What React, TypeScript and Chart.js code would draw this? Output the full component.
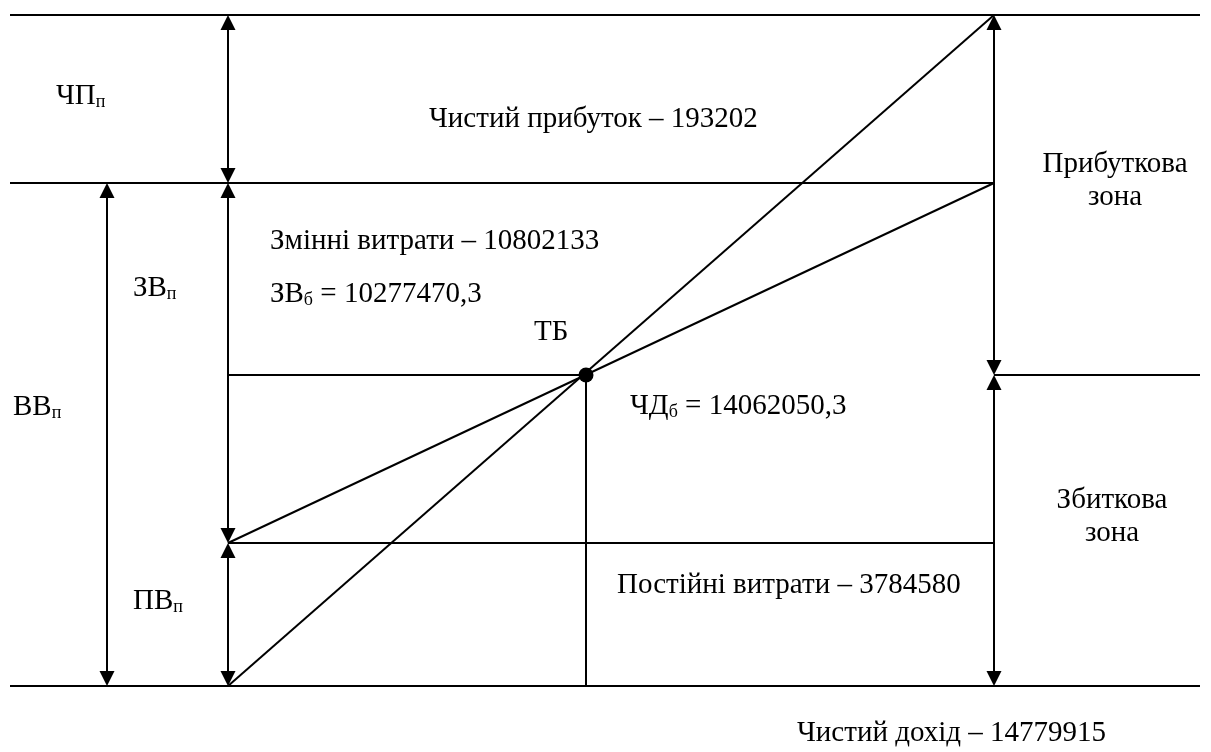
import { useEffect, useRef } from "react";
import { Chart, registerables } from "chart.js";

Chart.register(...registerables);

// Schematic break-even diagram. Values are in diagram units:
// volume along x (0 = start of the revenue line), amount along y (0 = base line).
const volumeNames = ["left edge", "ВВ arrow", "origin", "break-even", "end", "right edge"];
const volumeValues = [-218, -121, 0, 358, 766, 972];
const levelNames = ["base", "fixed costs", "break-even", "total costs", "revenue"];
const levelValues = [0, 143, 311, 503, 671];

const [X_LEFT, X_VV, X_0, X_BE, X_END, X_RIGHT] = volumeValues;
const [Y_BASE, Y_FIXED, Y_BE, Y_COST, Y_REV] = levelValues;

// Label texts: main text, subscript, rest
const labelTexts = [
  ["ЧП", "п", ""],
  ["Чистий прибуток – 193202", "", ""],
  ["Прибуткова", "", ""],
  ["зона", "", ""],
  ["Змінні витрати – 10802133", "", ""],
  ["ЗВ", "п", ""],
  ["ЗВ", "б", " = 10277470,3"],
  ["ТБ", "", ""],
  ["ВВ", "п", ""],
  ["ЧД", "б", " = 14062050,3"],
  ["Збиткова", "", ""],
  ["зона", "", ""],
  ["ПВ", "п", ""],
  ["Постійні витрати – 3784580", "", ""],
  ["Чистий дохід – 14779915", "", ""],
];
const labelX = [-172, 201, 887, 887, 42, -95, 42, 306, -215, 402, 884, 884, -95, 389, 569];
const labelY = [582, 559, 514, 481, 437, 390, 384, 346, 271, 272, 178, 145, 77, 93, -55];
const labelAlign = ["left", "left", "center", "center", "left", "left", "left", "left", "left", "left", "center", "center", "left", "left", "left"];

const segments: [number, number, number, number][] = [
  [X_LEFT, Y_REV, X_RIGHT, Y_REV],
  [X_LEFT, Y_COST, X_END, Y_COST],
  [X_0, Y_BE, X_BE, Y_BE],
  [X_END, Y_BE, X_RIGHT, Y_BE],
  [X_0, Y_FIXED, X_END, Y_FIXED],
  [X_LEFT, Y_BASE, X_RIGHT, Y_BASE],
  [X_BE, Y_BE, X_BE, Y_BASE],
  [X_0, Y_BASE, X_END, Y_REV],
  [X_0, Y_FIXED, X_END, Y_COST],
];

const arrows: [number, number, number][] = [
  [X_VV, Y_BASE, Y_COST],
  [X_0, Y_COST, Y_REV],
  [X_0, Y_FIXED, Y_COST],
  [X_0, Y_BASE, Y_FIXED],
  [X_END, Y_BE, Y_REV],
  [X_END, Y_BASE, Y_BE],
];

const FONT = "'Liberation Serif', 'Times New Roman', serif";
const MAIN_SIZE = 29;
const SUB_SIZE = 18;

const annotationPlugin = {
  id: "annotations",
  afterDatasetsDraw(chart: any) {
    const ctx = chart.ctx as CanvasRenderingContext2D;
    const xs = chart.scales.x;
    const ys = chart.scales.y;
    ctx.save();
    ctx.fillStyle = "#000";
    ctx.strokeStyle = "#000";
    ctx.lineWidth = 2;
    // arrows
    const head = (px: number, py: number, dir: number) => {
      ctx.beginPath();
      ctx.moveTo(px, py);
      ctx.lineTo(px - 7.5, py + dir * 15);
      ctx.lineTo(px + 7.5, py + dir * 15);
      ctx.closePath();
      ctx.fill();
    };
    arrows.forEach(([x, y1, y2]) => {
      const px = xs.getPixelForValue(x);
      const pLow = ys.getPixelForValue(y1);
      const pHigh = ys.getPixelForValue(y2);
      ctx.beginPath();
      ctx.moveTo(px, pLow - 10);
      ctx.lineTo(px, pHigh + 10);
      ctx.stroke();
      head(px, pHigh, 1);
      head(px, pLow, -1);
    });
    // labels
    ctx.textBaseline = "alphabetic";
    labelTexts.forEach(([main, sub, rest], i) => {
      const mainFont = `${MAIN_SIZE}px ${FONT}`;
      const subFont = `${SUB_SIZE}px ${FONT}`;
      ctx.font = mainFont;
      const w1 = ctx.measureText(main).width;
      const w3 = rest ? ctx.measureText(rest).width : 0;
      ctx.font = subFont;
      const w2 = sub ? ctx.measureText(sub).width : 0;
      const total = w1 + w2 + w3;
      let px = xs.getPixelForValue(labelX[i]);
      const py = ys.getPixelForValue(labelY[i]);
      if (labelAlign[i] === "center") px -= total / 2;
      ctx.textAlign = "left";
      ctx.font = mainFont;
      ctx.fillText(main, px, py);
      if (sub) {
        ctx.font = subFont;
        ctx.fillText(sub, px + w1, py + 3);
      }
      if (rest) {
        ctx.font = mainFont;
        ctx.fillText(rest, px + w1 + w2, py);
      }
    });
    ctx.restore();
  },
};

export default function App() {
  const ref = useRef<HTMLCanvasElement | null>(null);
  useEffect(() => {
    if (!ref.current) return;
    const datasets: any[] = segments.map(([x1, y1, x2, y2]) => ({
      type: "scatter",
      data: [
        { x: x1, y: y1 },
        { x: x2, y: y2 },
      ],
      showLine: true,
      borderColor: "#000",
      borderWidth: 2,
      pointRadius: 0,
      fill: false,
    }));
    datasets.push({
      type: "scatter",
      data: [{ x: X_BE, y: Y_BE }],
      pointRadius: 7.5,
      pointBackgroundColor: "#000",
      pointBorderColor: "#000",
      borderWidth: 0,
    });
    const chart = new Chart(ref.current, {
      type: "scatter",
      data: { datasets },
      options: {
        animation: false,
        responsive: true,
        maintainAspectRatio: false,
        layout: { padding: 0, autoPadding: false },
        plugins: { legend: { display: false }, tooltip: { enabled: false }, title: { display: false } },
        events: [],
        scales: {
          x: { type: "linear", display: false, min: -228, max: 983 },
          y: { type: "linear", display: false, min: -66, max: 686 },
        },
      },
      plugins: [annotationPlugin],
    });
    return () => chart.destroy();
  }, []);
  return (
    <div style={{ position: "absolute", left: 0, top: 0, width: 1211, height: 752, background: "#fff" }}>
      <canvas ref={ref} />
    </div>
  );
}
